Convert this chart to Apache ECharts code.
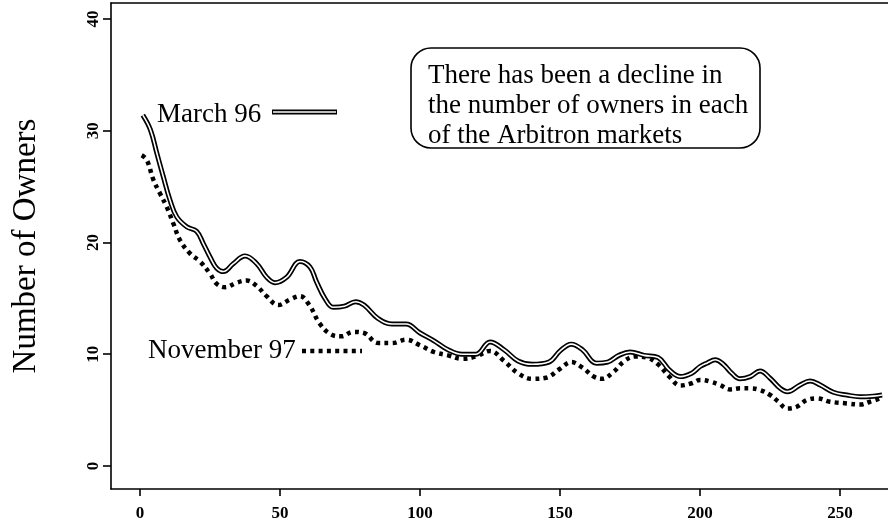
<!DOCTYPE html>
<html>
<head>
<meta charset="utf-8">
<script src="https://cdn.jsdelivr.net/npm/echarts@6/dist/echarts.min.js"></script>
<style>html,body{margin:0;padding:0;background:#fff}#c{width:888px;height:523px}</style>
</head>
<body>
<div id="c"></div>
<script>
var xTicks = [0, 50, 100, 150, 200, 250];
var yTicks = [0, 10, 20, 30, 40];

var marchX = [1, 3.7, 6, 8.3, 10.7, 13.1, 16.7, 20.2, 22.6, 25, 27.4, 29.8, 33.3, 37.5, 41.7, 45.2, 48.2, 52.4, 57.1, 60.7, 63, 66, 69, 73, 77, 80, 85, 90, 95, 100, 105, 110, 115, 120, 125, 130, 135, 140, 146, 150, 154, 158, 163, 167, 171, 175, 180, 185, 189, 193, 197, 200, 202.4, 205.4, 208.3, 211.3, 214.3, 217.9, 221.4, 225, 228.6, 231.2, 235.7, 239.3, 242.9, 247.6, 252.4, 257.1, 261.9, 265];
var marchY = [31.4, 30.1, 28.0, 25.9, 23.8, 22.3, 21.4, 21.0, 19.9, 18.7, 17.7, 17.4, 18.1, 18.8, 18.1, 16.9, 16.4, 16.9, 18.3, 17.8, 16.5, 15.0, 14.2, 14.3, 14.7, 14.4, 13.2, 12.7, 12.7, 11.9, 11.2, 10.4, 10.0, 10.0, 11.1, 10.4, 9.4, 9.1, 9.3, 10.3, 10.9, 10.4, 9.2, 9.3, 9.9, 10.2, 9.9, 9.7, 8.6, 8.0, 8.3, 8.9, 9.2, 9.5, 9.1, 8.3, 7.8, 8.0, 8.5, 7.85, 6.95, 6.65, 7.25, 7.6, 7.25, 6.6, 6.35, 6.2, 6.25, 6.35];

var novX = [0.6, 2.4, 4.8, 7.1, 9.5, 11.9, 14.3, 17.9, 21.4, 25, 27.4, 30.4, 34.5, 38.1, 41.7, 45.2, 49.4, 53.6, 57.1, 60.7, 64, 68, 72, 76, 80, 85, 90, 95, 100, 105, 110, 115, 120, 125, 130, 135, 140, 145, 150, 154, 158, 162, 165, 169, 173, 177, 181, 185, 189, 193, 197, 200, 203.6, 207.1, 210.7, 214.3, 217.9, 221.4, 225, 228, 231, 234.5, 238.1, 241.7, 246.4, 252.4, 257.1, 260.7, 264.3];
var novY = [27.8, 27.4, 25.6, 24.4, 23.2, 21.7, 20.2, 19.0, 18.3, 17.2, 16.3, 16.0, 16.4, 16.6, 16.1, 15.2, 14.4, 14.9, 15.2, 14.3, 12.8, 11.8, 11.6, 12.0, 11.9, 11.0, 11.0, 11.3, 10.8, 10.2, 9.9, 9.6, 9.8, 10.3, 9.4, 8.3, 7.8, 7.9, 8.7, 9.3, 8.8, 8.0, 7.8, 8.4, 9.4, 9.8, 9.7, 9.1, 8.0, 7.2, 7.4, 7.7, 7.55, 7.25, 6.85, 6.95, 6.95, 6.8, 6.35, 5.75, 5.15, 5.3, 5.9, 6.05, 5.75, 5.6, 5.5, 5.75, 6.05];

var seriesNames = ['March 96', 'November 97'];
var yTitle = 'Number of Owners';
var noteLines = ['There has been a decline in', 'the number of owners in each', 'of the Arbitron markets'];

function pairs(xs, ys) { return xs.map(function (x, i) { return [x, ys[i]]; }); }

var FONT = '"Liberation Serif", "Times New Roman", serif';
var chart = echarts.init(document.getElementById('c'), null, { renderer: 'canvas' });

chart.setOption({
  animation: false,
  backgroundColor: '#fff',
  grid: { left: 111, right: 0, top: 3, bottom: 34, containLabel: false },
  xAxis: [{
    type: 'value', min: -10.36, max: 267.1, position: 'bottom',
    splitLine: { show: false },
    axisLine: { show: true, onZero: false, lineStyle: { color: '#000', width: 1.6 } },
    axisTick: { show: true, customValues: xTicks, length: 7, lineStyle: { color: '#000', width: 1.6 } },
    axisLabel: { customValues: xTicks, color: '#000', fontFamily: FONT, fontSize: 17, fontWeight: 'bold', margin: 16 }
  }, {
    type: 'value', min: -10.36, max: 267.1, position: 'top',
    splitLine: { show: false },
    axisLine: { show: true, onZero: false, lineStyle: { color: '#000', width: 1.6 } },
    axisTick: { show: false }, axisLabel: { show: false }
  }],
  yAxis: {
    type: 'value', min: -2.06, max: 41.43,
    splitLine: { show: false },
    axisLine: { show: true, onZero: false, lineStyle: { color: '#000', width: 1.6 } },
    axisTick: { show: true, customValues: yTicks, length: 8, lineStyle: { color: '#000', width: 1.6 } },
    axisLabel: { customValues: yTicks, rotate: 90, color: '#000', fontFamily: FONT, fontSize: 17, fontWeight: 'bold', margin: 9 },
    name: yTitle, nameLocation: 'middle', nameGap: 68, nameRotate: 90,
    nameTextStyle: { color: '#000', fontFamily: FONT, fontSize: 33 }
  },
  series: [{
    name: seriesNames[0], type: 'line', xAxisIndex: 0, data: pairs(marchX, marchY),
    smooth: 0.4, showSymbol: false, lineStyle: { color: '#000', width: 5 }, z: 3
  }, {
    name: seriesNames[0] + ' inner', type: 'line', xAxisIndex: 0, data: pairs(marchX, marchY),
    smooth: 0.4, showSymbol: false, lineStyle: { color: '#fff', width: 1.6 }, z: 4
  }, {
    name: seriesNames[1], type: 'line', xAxisIndex: 0, data: pairs(novX, novY),
    smooth: 0.4, showSymbol: false,
    lineStyle: { color: '#000', width: 4.5, type: [4, 4.3], cap: 'butt' }, z: 2
  }],
  graphic: [
    { type: 'text', left: 157, top: 101, style: { text: seriesNames[0], fill: '#000', font: '27px ' + FONT } },
    { type: 'line', shape: { x1: 272, y1: 112, x2: 337, y2: 112 }, style: { stroke: '#000', lineWidth: 5 } },
    { type: 'line', shape: { x1: 273, y1: 112, x2: 336, y2: 112 }, style: { stroke: '#fff', lineWidth: 1.6 }, z: 101 },
    { type: 'text', left: 148, top: 337, style: { text: seriesNames[1], fill: '#000', font: '27px ' + FONT } },
    { type: 'line', shape: { x1: 302, y1: 351, x2: 362, y2: 351 }, style: { stroke: '#000', lineWidth: 4.5, lineDash: [4, 4.3] } },
    { type: 'rect', shape: { x: 411, y: 48, width: 349, height: 100, r: 20 }, style: { fill: '#fff', stroke: '#000', lineWidth: 1.6 } },
    { type: 'text', left: 428, top: 61, style: { text: noteLines.join('\n'), fill: '#000', font: '27px ' + FONT, lineHeight: 30 } }
  ]
});
</script>
</body>
</html>
